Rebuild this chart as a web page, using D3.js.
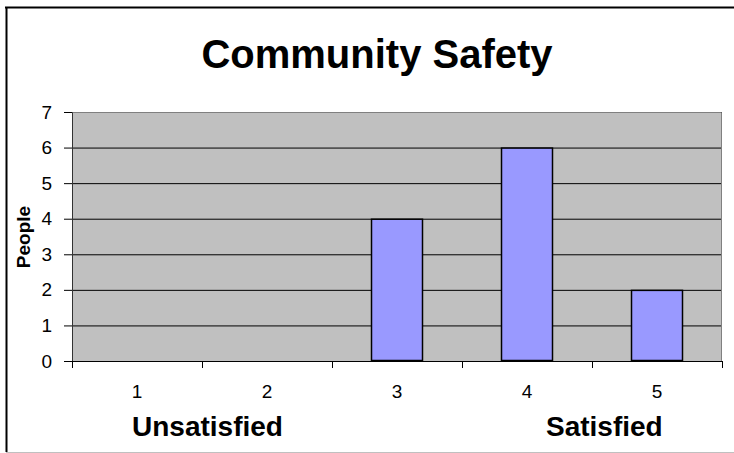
<!DOCTYPE html>
<html>
<head>
<meta charset="utf-8">
<script src="https://cdn.jsdelivr.net/npm/d3@7"></script>
<style>
  body{margin:0;background:#fff;}
  text{font-family:Arial,"Liberation Sans",sans-serif;}
</style>
</head>
<body>
<div class="canvas"></div>
<script>
// data
const categories=['1','2','3','4','5'];
const people=[0,0,4,6,2];
const yTicks=[0,1,2,3,4,5,6,7];

const W=734,H=453;
const margin={top:112,right:12,bottom:92,left:72};
const graphWidth=W-margin.left-margin.right;   // 650
const graphHeight=H-margin.top-margin.bottom;  // 249

const svg=d3.select('.canvas')
  .append('svg')
    .attr('width',W)
    .attr('height',H);

// outer frame (top + left black, bottom gray)
svg.append('line').attr('x1',5).attr('x2',W).attr('y1',7.5).attr('y2',7.5)
  .attr('stroke','#000').attr('stroke-width',2);
svg.append('line').attr('x1',6.5).attr('x2',6.5).attr('y1',7).attr('y2',452)
  .attr('stroke','#000').attr('stroke-width',2);
svg.append('line').attr('x1',6).attr('x2',W).attr('y1',452.5).attr('y2',452.5)
  .attr('stroke','#c0c0c0').attr('stroke-width',1);

// title
svg.append('text')
  .attr('x',377).attr('y',68)
  .attr('text-anchor','middle')
  .attr('font-size',40).attr('font-weight','bold')
  .text('Community Safety');

const graph=svg.append('g')
  .attr('transform',`translate(${margin.left},${margin.top})`);

//scales
const x=d3.scaleBand()
  .domain(categories)
  .range([0,graphWidth])
  .paddingInner(0.6)
  .paddingOuter(0.3);
const xb=d3.scaleBand()   // boundaries for tick marks
  .domain(categories)
  .range([0,graphWidth]);
const y=d3.scaleLinear()
  .domain([0,d3.max(yTicks)])
  .range([graphHeight,0]);

// plot background
graph.append('rect')
  .attr('width',graphWidth).attr('height',graphHeight)
  .attr('fill','#c0c0c0');

// gridlines
const grid=graph.append('g')
  .call(d3.axisLeft(y).tickValues(yTicks.slice(1)).tickSize(-graphWidth).tickFormat(''));
grid.select('.domain').remove();
grid.selectAll('line').attr('stroke','#000');

// plot border right / top
graph.append('path')
  .attr('d',`M0,0.5H${graphWidth-0.5}V${graphHeight}`)
  .attr('fill','none').attr('stroke','#808080');

// bars
graph.selectAll('rect.bar')
  .data(people.map((v,i)=>({name:categories[i],value:v})).filter(d=>d.value>0))
  .enter().append('rect')
    .attr('class','bar')
    .attr('x',d=>x(d.name)+0.5)
    .attr('y',d=>y(d.value)+0.5)
    .attr('width',x.bandwidth()-1)
    .attr('height',d=>graphHeight-y(d.value)-1)
    .attr('fill','#9999ff')
    .attr('stroke','#000')
    .attr('stroke-width',1.5);

// y axis
const yAxisGroup=graph.append('g')
  .call(d3.axisLeft(y).tickValues(yTicks).tickFormat(d3.format('d')).tickSize(8).tickPadding(12));
yAxisGroup.select('.domain').attr('stroke','#333');
yAxisGroup.selectAll('line').attr('stroke','#000');
yAxisGroup.selectAll('text')
  .style('font-size','19px').attr('fill','#000');

// x axis: labels centered, ticks at category boundaries
const xAxisGroup=graph.append('g')
  .attr('transform',`translate(0,${graphHeight})`)
  .call(d3.axisBottom(xb).tickSize(0).tickPadding(24));
xAxisGroup.select('.domain').attr('stroke','#000');
xAxisGroup.selectAll('text')
  .style('font-size','19px').attr('fill','#000');
xAxisGroup.selectAll('line.bound')
  .data(categories.map(c=>xb(c)).concat([graphWidth]))
  .enter().append('line')
    .attr('class','bound')
    .attr('x1',d=>Math.round(d)+0.5).attr('x2',d=>Math.round(d)+0.5)
    .attr('y1',0).attr('y2',7)
    .attr('stroke','#000');

// axis titles
svg.append('text')
  .attr('transform','translate(30,237) rotate(-90)')
  .attr('text-anchor','middle')
  .attr('font-size',19).attr('font-weight','bold')
  .text('People');
svg.append('text')
  .attr('x',132).attr('y',436)
  .attr('font-size',28).attr('font-weight','bold')
  .text('Unsatisfied');
svg.append('text')
  .attr('x',546).attr('y',436)
  .attr('font-size',28).attr('font-weight','bold')
  .text('Satisfied');
</script>
</body>
</html>
